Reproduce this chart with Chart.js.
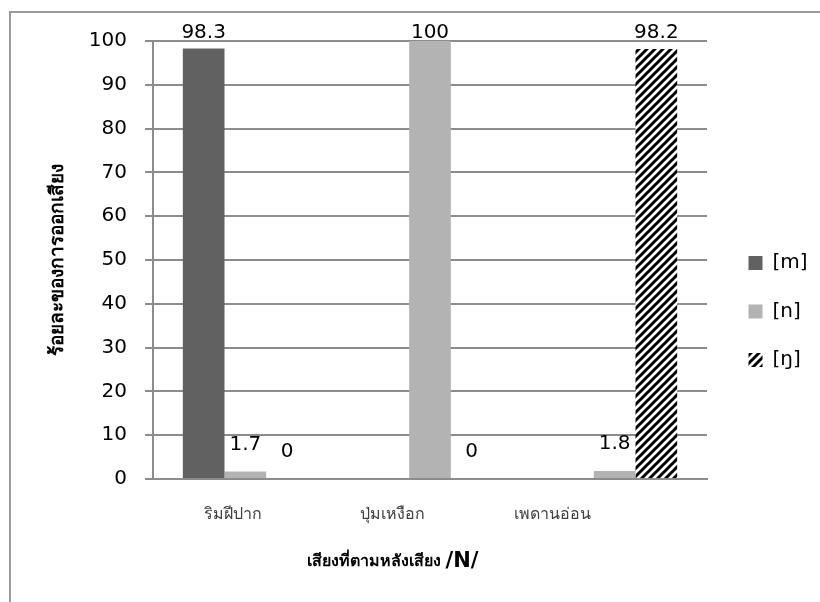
<!DOCTYPE html>
<html>
<head>
<meta charset="utf-8">
<script src="https://cdn.jsdelivr.net/npm/chart.js@4/dist/chart.umd.min.js"></script>
<style>
  html, body { margin: 0; padding: 0; background: #ffffff; }
  canvas { display: block; }
</style>
</head>
<body>
<canvas id="chart" width="820" height="602"></canvas>
<script>
// Places of articulation of the following consonant
const categories = ['ริมฝีปาก', 'ปุ่มเหงือก', 'เพดานอ่อน'];
// Realisation of the nasal /N/
const seriesNames = ['[m]', '[n]', '[ŋ]'];
const valuesM = [98.3, null, null];
const valuesN = [1.7, 100, 1.8];
const valuesNg = [0, 0, 98.2];
// Percentage axis
const yMin = 0;
const yMax = 100;
const yStep = 10;
const yTitle = 'ร้อยละของการออกเสียง';
const xTitleThai = 'เสียงที่ตามหลังเสียง ';
const xTitleSymbol = '/N/';

const FONT = "'DejaVu Sans', 'Noto Sans', sans-serif";
const THAI_FONT = "'Noto Sans', sans-serif";

// Diagonal stripe fill for the [ŋ] series
function makeStripes() {
  const s = 8;
  const c = document.createElement('canvas');
  c.width = s; c.height = s;
  const g = c.getContext('2d');
  g.fillStyle = '#ffffff';
  g.fillRect(0, 0, s, s);
  g.strokeStyle = '#000000';
  g.lineWidth = 3;
  g.beginPath();
  g.moveTo(-2, s + 2); g.lineTo(s + 2, -2);
  g.moveTo(-2, 2); g.lineTo(2, -2);
  g.moveTo(s - 2, s + 2); g.lineTo(s + 2, s - 2);
  g.stroke();
  return g.createPattern(c, 'repeat');
}
const stripes = makeStripes();

// Grey frame along the left and top edges
const framePlugin = {
  id: 'frame',
  beforeDraw(chart) {
    const ctx = chart.ctx;
    ctx.save();
    ctx.strokeStyle = '#9a9a9a';
    ctx.lineWidth = 2;
    ctx.beginPath();
    ctx.moveTo(10, 602);
    ctx.lineTo(10, 12);
    ctx.lineTo(820, 12);
    ctx.stroke();
    ctx.restore();
  }
};

// Value labels above each bar, kept inside the top of the plot
const valueLabels = {
  id: 'valueLabels',
  afterDatasetsDraw(chart) {
    const ctx = chart.ctx;
    const top = chart.chartArea.top;
    ctx.save();
    ctx.font = "20px " + FONT;
    ctx.fillStyle = '#000000';
    ctx.textAlign = 'center';
    ctx.textBaseline = 'middle';
    chart.data.datasets.forEach((ds, i) => {
      const meta = chart.getDatasetMeta(i);
      meta.data.forEach((bar, j) => {
        const v = ds.data[j];
        if (v === null || v === undefined) return;
        const y = Math.max(top - 8, bar.y - 27);
        ctx.fillText(String(v), bar.x, y);
      });
    });
    ctx.restore();
  }
};

// Category names and axis title under the x axis; the text block is
// drawn narrower than the plot, pulled towards the left edge
const xAxisText = {
  id: 'xAxisText',
  afterDraw(chart) {
    const ctx = chart.ctx;
    const xs = chart.scales.x;
    const left = chart.chartArea.left;
    const squeeze = 0.866;
    const place = (px) => left + (px - left) * squeeze;
    ctx.save();
    ctx.fillStyle = '#404040';
    ctx.textAlign = 'center';
    ctx.textBaseline = 'middle';
    ctx.font = "16px " + THAI_FONT;
    categories.forEach((name, i) => {
      ctx.fillText(name, place(xs.getPixelForValue(i)), 514);
    });
    // Title: Thai words followed by the larger symbol /N/
    const fThai = "bold 16px " + THAI_FONT;
    const fSym = "bold 21px " + FONT;
    ctx.font = fThai;
    const w1 = ctx.measureText(xTitleThai).width;
    ctx.font = fSym;
    const w2 = ctx.measureText(xTitleSymbol).width;
    const cx = place((xs.left + xs.right) / 2);
    const x0 = cx - (w1 + w2) / 2;
    ctx.fillStyle = '#000000';
    ctx.textAlign = 'left';
    ctx.textBaseline = 'alphabetic';
    ctx.font = fThai;
    ctx.fillText(xTitleThai, x0, 566);
    ctx.font = fSym;
    ctx.fillText(xTitleSymbol, x0 + w1, 567);
    ctx.restore();
  }
};

// Fixed legend width and offset to the right-hand margin
const legendPlace = {
  id: 'legendPlace',
  beforeInit(chart) {
    const legend = chart.legend;
    if (!legend) return;
    const fit = legend.fit;
    legend.fit = function () {
      fit.call(this);
      this.width = 113;
    };
  },
  afterLayout(chart) {
    const legend = chart.legend;
    if (!legend) return;
    const dx = 13, dy = -1;
    legend.left += dx; legend.right += dx;
    legend.top += dy; legend.bottom += dy;
  }
};

new Chart(document.getElementById('chart'), {
  type: 'bar',
  data: {
    labels: categories,
    datasets: [
      { label: seriesNames[0], data: valuesM, backgroundColor: '#616161' },
      { label: seriesNames[1], data: valuesN, backgroundColor: '#b3b3b3' },
      { label: seriesNames[2], data: valuesNg, backgroundColor: stripes }
    ]
  },
  options: {
    responsive: false,
    animation: false,
    devicePixelRatio: 1,
    layout: { padding: { left: 20, top: 41, right: 0, bottom: 18 } },
    datasets: {
      bar: { categoryPercentage: 0.677, barPercentage: 1.0, borderWidth: 0 }
    },
    plugins: {
      tooltip: { enabled: false },
      legend: {
        position: 'right',
        align: 'center',
        labels: {
          font: { family: FONT, size: 20 },
          color: '#000000',
          boxWidth: 14,
          boxHeight: 14,
          padding: 28.5
        }
      }
    },
    scales: {
      x: {
        grid: { display: false },
        border: { display: true, color: '#8c8c8c', width: 2 },
        ticks: { display: false },
        title: { display: false },
        afterFit(scale) { scale.height = 602 - 18 - 479; }
      },
      y: {
        min: yMin,
        max: yMax,
        ticks: {
          stepSize: yStep,
          font: { family: FONT, size: 20 },
          color: '#000000',
          padding: 18
        },
        grid: {
          color: '#8c8c8c',
          lineWidth: 2,
          tickLength: 8,
          drawTicks: true
        },
        border: { display: true, color: '#8c8c8c', width: 2 },
        title: {
          display: true,
          text: yTitle,
          font: { family: THAI_FONT, size: 19, weight: 'bold' },
          color: '#000000',
          padding: { top: 26, bottom: 0 }
        },
        afterFit(scale) { scale.width = 153 - 20; }
      }
    }
  },
  plugins: [framePlugin, valueLabels, xAxisText, legendPlace]
});
</script>
</body>
</html>
